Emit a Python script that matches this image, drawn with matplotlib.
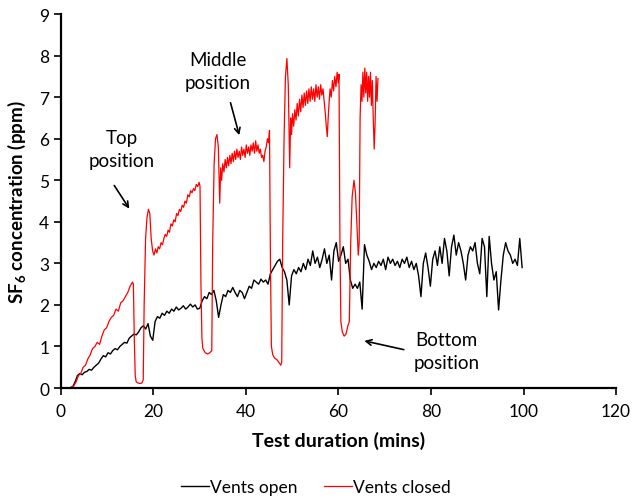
import numpy as np
import matplotlib
matplotlib.use('Agg')
import matplotlib.pyplot as plt

plt.rcParams['font.family'] = ['Lato', 'DejaVu Sans']
plt.rcParams['mathtext.fontset'] = 'custom'
plt.rcParams['mathtext.bf'] = 'Lato:bold'
plt.rcParams['mathtext.rm'] = 'Lato'

# vents open, evenly spaced readings from 0 to ~99.7 min
open_v = [0, 0, 0, 0, 0.01,
          0.03, 0.15, 0.3, 0.35, 0.32, 0.38, 0.4, 0.45, 0.43, 0.5, 0.55, 0.6, 0.7, 0.78, 0.75, 0.85,
          0.82, 0.9, 0.95, 0.92, 1.0, 1.05, 1.1, 1.08, 1.2, 1.25, 1.3, 1.28, 1.35, 1.45, 1.5, 1.42,
          1.55, 1.25, 1.15, 1.6, 1.72, 1.68, 1.8, 1.75, 1.85, 1.8, 1.9, 1.85, 1.95, 1.88, 1.92, 1.98,
          1.9, 1.95, 2.02, 1.95, 2.0, 1.9, 1.92, 2.1, 2.2, 2.15, 2.3, 2.25, 2.35, 2.1, 1.7, 2.0,
          2.25, 2.2, 2.35, 2.3, 2.42, 2.3, 2.2, 2.35, 2.3, 2.15, 2.3, 2.45, 2.4, 2.6, 2.55, 2.5,
          2.62, 2.55, 2.6, 2.5, 2.75, 2.85, 2.95, 3.05, 3.1, 2.9, 2.8, 2.6, 2.0, 2.7, 2.85, 2.75,
          2.9, 2.8, 3.0, 2.85, 3.1, 2.95, 3.3, 3.0, 3.15, 2.9, 3.1, 3.35, 3.0, 3.2, 2.6, 3.3,
          3.5, 3.05, 3.2, 3.4, 3.0, 3.1, 2.6, 2.4, 2.5, 2.4, 2.55, 1.9, 3.45, 3.2, 3.05, 2.85,
          3.0, 2.9, 3.05, 2.95, 3.1, 2.85, 3.15, 3.0, 3.1, 2.95, 3.05, 2.9, 3.1, 3.0, 3.15, 2.9,
          3.05, 2.85, 3.0, 2.7, 2.2, 3.0, 3.25, 2.9, 2.45, 3.1, 3.3, 2.95, 3.4, 3.0, 3.6, 3.3,
          2.7, 3.4, 3.68, 3.2, 3.5, 3.3, 3.0, 2.6, 3.2, 3.4, 3.3, 3.5, 3.0, 2.75, 3.6, 3.4,
          2.2, 3.65, 3.0, 2.6, 2.8, 1.88, 2.6, 3.2, 3.5, 3.3, 3.2, 3.0, 3.1, 2.95, 3.6, 2.9]
open_end = 99.7

# vents closed (readings at irregular times, min)
closed_t = [0, 0.7, 1.2, 1.7, 2.2, 2.75,
            3.27, 3.77, 4.28, 4.79, 5.3, 5.8, 6.31, 6.82, 7.33, 7.83, 8.34, 8.85, 9.36, 9.86,
            10.37, 10.88, 11.39, 11.89, 12.4, 12.91, 13.42, 13.92, 14.43, 14.94, 15.45, 15.65,
            15.85, 16.05, 16.26, 16.66, 17.07, 17.48, 17.78,
            17.98, 18.29, 18.59, 18.9, 19.2, 19.5, 19.81, 20.11, 20.42, 20.72, 21.03, 21.33, 21.64,
            21.94, 22.25, 22.55, 22.85, 23.16, 23.46, 23.77, 24.07, 24.38, 24.68, 24.99, 25.29,
            25.6, 25.9, 26.2, 26.51, 26.81, 27.12, 27.42, 27.73, 28.03, 28.34, 28.64, 28.94,
            29.25, 29.55, 29.86, 30.06,
            30.26, 30.47, 30.67, 31.18, 31.69, 32.19, 32.6,
            32.8, 33.11, 33.41, 33.72, 34.02, 34.32, 34.53, 34.73, 34.98, 35.24, 35.49, 35.75,
            36.0, 36.25, 36.51, 36.76, 37.01, 37.27, 37.52, 37.78, 38.03, 38.28, 38.54, 38.79,
            39.04, 39.3, 39.55, 39.81, 40.06, 40.31, 40.57, 40.82, 41.07, 41.33, 41.58, 41.84,
            42.09, 42.34, 42.6, 42.85, 43.1, 43.36, 43.61, 43.87, 44.12, 44.37, 44.63, 44.88, 45.08,
            45.29, 45.49, 45.79, 46.2, 46.71, 47.21, 47.52, 47.72,
            47.93, 48.23, 48.53, 48.84, 49.14, 49.35, 49.45, 49.65, 49.85, 50.06, 50.31, 50.56,
            50.82, 51.07, 51.33, 51.58, 51.83, 52.09, 52.34, 52.59, 52.85, 53.1, 53.36, 53.61,
            53.86, 54.12, 54.37, 54.62, 54.88, 55.13, 55.39, 55.64, 55.89, 56.15, 56.4, 56.65,
            56.91, 57.16, 57.36, 57.57, 57.77, 57.98, 58.18, 58.43, 58.69, 58.94, 59.19, 59.45,
            59.7, 59.95, 60.11,
            60.31, 60.51, 60.82, 61.22, 61.63, 62.03, 62.34,
            62.64, 62.95, 63.35, 63.66, 63.96, 64.27, 64.47,
            64.67, 64.88, 65.08, 65.28, 65.48, 65.69, 65.89, 66.09, 66.3, 66.5, 66.7, 66.91,
            67.11, 67.31, 67.51, 67.72, 67.92, 68.12, 68.33, 68.53]
closed_v = [0, 0, 0.01, 0, 0.02, 0.05,
            0.15, 0.3, 0.35, 0.5, 0.55, 0.7, 0.8, 0.95, 1.0, 1.1, 1.05, 1.25, 1.4, 1.45, 1.6, 1.7,
            1.75, 1.9, 1.85, 2.05, 2.1, 2.2, 2.3, 2.45, 2.55, 2.5,
            1.2, 0.3, 0.15, 0.12, 0.11, 0.12, 0.2,
            2.0, 3.6, 4.1, 4.3, 4.2, 3.6, 3.3, 3.2, 3.35, 3.25, 3.4, 3.35, 3.5, 3.45, 3.6,
            3.7, 3.65, 3.8, 3.75, 3.95, 3.9, 4.05, 4.0, 4.2, 4.15, 4.3, 4.25, 4.4, 4.35, 4.5,
            4.45, 4.65, 4.6, 4.75, 4.7, 4.8, 4.75, 4.9, 4.85, 4.95, 4.85,
            2.5, 1.2, 0.95, 0.85, 0.82, 0.85, 0.9,
            3.5, 5.4, 6.0, 6.1, 5.8, 4.45, 5.3, 5.0, 5.4, 5.2, 5.5, 5.3, 5.55, 5.35,
            5.6, 5.4, 5.65, 5.45, 5.7, 5.5, 5.75, 5.55, 5.7, 5.5, 5.8, 5.6, 5.75, 5.55,
            5.85, 5.65, 5.8, 5.6, 5.85, 5.7, 5.9, 5.65, 5.95, 5.7, 5.85, 5.65, 5.75, 5.55,
            5.6, 5.45, 5.7, 5.8, 6.0, 5.9, 6.2,
            3.0, 1.0, 0.8, 0.72, 0.68, 0.6, 0.55, 0.62,
            3.5, 6.0, 7.5, 7.93, 7.3, 6.0, 5.3, 6.5, 6.1, 6.6, 6.3, 6.7, 6.45, 6.85,
            6.55, 6.95, 6.65, 7.05, 6.75, 7.1, 6.8, 7.15, 6.85, 7.2, 6.9, 7.25, 6.95,
            7.2, 6.9, 7.3, 7.0, 7.25, 6.95, 7.3, 7.05, 7.2, 6.9, 6.6, 6.3, 6.05,
            6.5, 6.9, 7.2, 7.0, 7.4, 7.15, 7.5, 7.25, 7.6, 7.35, 7.55,
            3.5, 1.6, 1.35, 1.25, 1.3, 1.5, 1.6,
            3.5, 4.6, 5.0, 4.7, 4.0, 3.2, 3.5,
            6.5, 7.3, 6.9, 7.6, 7.0, 7.7, 7.1, 7.6, 6.9, 7.5, 7.0, 7.6, 6.8, 7.4,
            6.5, 5.75, 6.4, 7.5, 6.9, 7.45]

open_t = np.linspace(0, open_end, len(open_v))

fig = plt.figure(figsize=(6.32, 5.02), dpi=100)
ax = fig.add_axes([0.0965, 0.225, 0.8782, 0.745])

ax.plot(open_t, open_v, color='black', lw=1.0, label='Vents open')
ax.plot(closed_t, closed_v, color='#ff0000', lw=0.9, label='Vents closed')

ax.set_xlim(0, 120)
ax.set_ylim(0, 9)
ax.set_xticks(range(0, 121, 20))
ax.set_yticks(range(0, 10))
ax.spines['top'].set_visible(False)
ax.spines['right'].set_visible(False)
ax.spines['left'].set_linewidth(1.6)
ax.spines['bottom'].set_linewidth(1.6)
ax.tick_params(axis='both', direction='out', length=5, width=1.2, labelsize=12.5, colors='#000000')
ax.tick_params(axis='x', pad=6)

ax.set_xlabel('Test duration (mins)', fontsize=14, fontweight='bold', labelpad=8)
ax.set_ylabel(r'SF$_\mathbf{6}$ concentration (ppm)', fontsize=13.5, fontweight='bold', labelpad=8)

# annotations
arr = dict(arrowstyle='->', color='black', lw=1.2)
ax.annotate('', xy=(15.1, 4.26), xytext=(11.2, 4.93), arrowprops=arr)
ax.text(13.2, 5.75, 'Top\nposition', ha='center', va='center', fontsize=13.5, linespacing=1.4)
ax.annotate('', xy=(38.7, 6.02), xytext=(36.5, 6.93), arrowprops=arr)
ax.text(33.9, 7.63, 'Middle\nposition', ha='center', va='center', fontsize=13.5, linespacing=1.4)
ax.annotate('', xy=(65.0, 1.15), xytext=(74.7, 0.91), arrowprops=arr)
ax.text(83.4, 0.89, 'Bottom\nposition', ha='center', va='center', fontsize=13.5, linespacing=1.4)

fig.legend(loc='center', bbox_to_anchor=(0.5, 0.028), ncol=2, frameon=False, fontsize=12.5,
           handlelength=1.6, handletextpad=0.1, columnspacing=1.5)

fig.savefig('out.png', dpi=100)
